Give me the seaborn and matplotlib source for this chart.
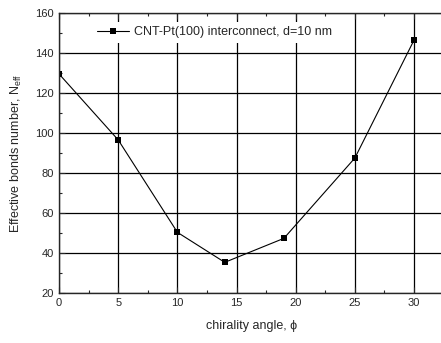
import matplotlib
matplotlib.use('Agg')
import matplotlib.pyplot as plt
import seaborn as sns
import pandas as pd
from matplotlib.ticker import MultipleLocator

sns.set_style('ticks')
plt.rcParams['font.family'] = ['Liberation Sans', 'DejaVu Sans']

# data
angle = [0, 5, 10, 14, 19, 25, 30]
bonds = [129.5, 96.5, 50.3, 35.3, 47.3, 87.5, 146.5]
label = 'CNT-Pt(100) interconnect, d=10 nm'

df = pd.DataFrame({'angle': angle, 'bonds': bonds})

fig = plt.figure(figsize=(4.41, 3.43), dpi=100)
ax = fig.add_axes([0.134, 0.146, 0.872, 0.816])

sns.lineplot(data=df, x='angle', y='bonds', ax=ax, color='black', lw=0.8,
             marker='s', markersize=4, markeredgewidth=0, label=label)

ax.set_xlim(0, 32.5)
ax.set_ylim(20, 160)
ax.xaxis.set_major_locator(MultipleLocator(5))
ax.xaxis.set_minor_locator(MultipleLocator(2.5))
ax.yaxis.set_major_locator(MultipleLocator(20))
ax.yaxis.set_minor_locator(MultipleLocator(10))
ax.tick_params(which='both', direction='in', top=True, right=False, labelsize=8, pad=4)
ax.tick_params(which='major', length=4, width=0.8)
ax.tick_params(which='minor', length=2, width=0.8)
ax.grid(True, which='major', color='black', lw=0.9)
for s in ax.spines.values():
    s.set_linewidth(1)

ax.set_xlabel('chirality angle, \u03d5', fontsize=9, labelpad=8)
ax.set_ylabel('Effective bonds number, N$_{\\mathregular{eff}}$', fontsize=9, labelpad=8)

leg = ax.legend(loc='upper left', bbox_to_anchor=(0.07, 0.99), frameon=True,
                fontsize=9, handlelength=2.6, handletextpad=0.4,
                borderpad=0.35, fancybox=False, framealpha=1)
leg.get_frame().set_facecolor('white')
leg.get_frame().set_linewidth(0)

fig.savefig('out.png', dpi=100)
